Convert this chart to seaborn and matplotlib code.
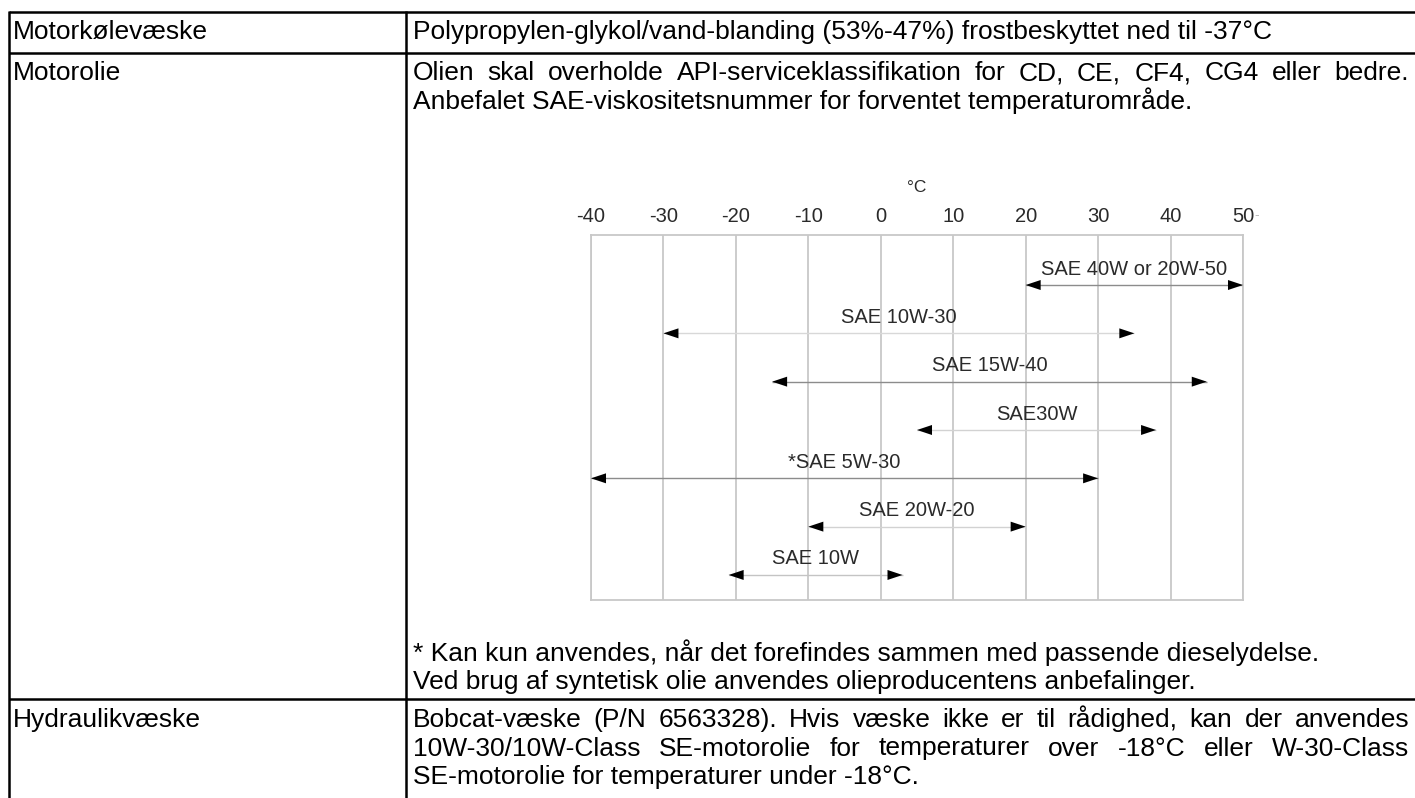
import numpy as np
import pandas as pd
import seaborn as sns
import matplotlib
matplotlib.use("Agg")
import matplotlib.pyplot as plt
from matplotlib.path import Path

# ---------------- data ----------------
row_labels = ["Motorkølevæske", "Motorolie", "Hydraulikvæske"]
coolant_text = "Polypropylen-glykol/vand-blanding (53%-47%) frostbeskyttet ned til -37°C"
oil_lines = [
    "Olien skal overholde API-serviceklassifikation for CD, CE, CF4, CG4 eller bedre.",
    "Anbefalet SAE-viskositetsnummer for forventet temperaturområde.",
]
oil_notes = [
    "* Kan kun anvendes, når det forefindes sammen med passende dieselydelse.",
    "Ved brug af syntetisk olie anvendes olieproducentens anbefalinger.",
]
hyd_lines = [
    "Bobcat-væske (P/N 6563328). Hvis væske ikke er til rådighed, kan der anvendes",
    "10W-30/10W-Class SE-motorolie for temperaturer over -18°C eller W-30-Class",
    "SE-motorolie for temperaturer under -18°C.",
]
temp_ticks = [-40, -30, -20, -10, 0, 10, 20, 30, 40, 50]
temp_unit = "°C"
grades = ["SAE 40W or 20W-50", "SAE 10W-30", "SAE 15W-40", "SAE30W",
          "*SAE 5W-30", "SAE 20W-20", "SAE 10W"]
grade_low = [20, -30, -15, 5, -40, -10, -21]
grade_high = [50, 35, 45, 38, 30, 20, 3]

# ---------------- style ----------------
grade_line_colors = ["#8c8c8c", "#d8d8d8", "#8c8c8c", "#d2d2d2",
                     "#8c8c8c", "#d2d2d2", "#c4c4c4"]
W, H = 1415, 798
BODY = 19
CHART = 14.5
LEAD = 28.5

sns.set_style("white")
plt.rcParams["font.family"] = ["Liberation Sans", "DejaVu Sans"]

fig = plt.figure(figsize=(W / 100, H / 100), dpi=100)
fig.patch.set_facecolor("white")

# background axes in pixel coordinates for the table
bg = fig.add_axes([0, 0, 1, 1])
bg.set_xlim(0, W)
bg.set_ylim(H, 0)
bg.axis("off")
bg.patch.set_visible(False)

lw = 1.8
bg.plot([9, W], [12, 12], color="black", lw=lw, solid_capstyle="butt")
bg.plot([9, W], [53, 53], color="black", lw=lw, solid_capstyle="butt")
bg.plot([9, W], [699, 699], color="black", lw=lw, solid_capstyle="butt")
bg.plot([9, 9], [11, H], color="black", lw=lw, solid_capstyle="butt")
bg.plot([406, 406], [11, H], color="black", lw=lw, solid_capstyle="butt")

renderer = fig.canvas.get_renderer()
XL, XR0, XR1 = 13, 413, 1409


def put(txt, x, y):
    return bg.text(x, y, txt, fontsize=BODY, ha="left", va="baseline", color="black")


def justified(txt, x0, x1, y):
    words = txt.split(" ")
    arts = [put(w, 0, y) for w in words]
    widths = []
    for a in arts:
        bb = a.get_window_extent(renderer)
        widths.append(bb.width)
    gap = (x1 - x0 - sum(widths)) / (len(words) - 1)
    x = x0
    for a, wdt in zip(arts, widths):
        a.set_x(x)
        x += wdt + gap


# row 1
put(row_labels[0], XL, 39)
put(coolant_text, XR0, 39)
# row 2
put(row_labels[1], XL, 80)
justified(oil_lines[0], XR0, XR1, 80)
put(oil_lines[1], XR0, 80 + LEAD)
put(oil_notes[0], XR0, 660.5)
put(oil_notes[1], XR0, 689)
# row 3
put(row_labels[2], XL, 727)
justified(hyd_lines[0], XR0, XR1, 727)
justified(hyd_lines[1], XR0, XR1, 727 + LEAD)
put(hyd_lines[2], XR0, 727 + 2 * LEAD)

# ---------------- chart ----------------
L, R, T, B = 591, 1243, 235, 600
ax = fig.add_axes([L / W, 1 - B / H, (R - L) / W, (B - T) / H])
n = len(grades)
ax.set_xlim(temp_ticks[0], temp_ticks[-1])
ax.set_ylim(n - 1 + 0.518, -1.035)
ax.set_xticks(temp_ticks)
ax.set_xticklabels([str(t) for t in temp_ticks])
ax.xaxis.tick_top()
ax.tick_params(axis="x", length=0, pad=6.5, labelsize=CHART, labelcolor="#2a2a2a")
ax.set_yticks([])
ax.grid(axis="x", color="#c8c8c8", lw=1.3)
ax.grid(axis="y", visible=False)
ax.set_axisbelow(True)
for s in ax.spines.values():
    s.set_color("#c8c8c8")
    s.set_linewidth(1.3)

df = pd.DataFrame({"grade": grades, "low": grade_low, "high": grade_high,
                   "pos": np.arange(n)})

ax.hlines(df["pos"], df["low"], df["high"], colors=grade_line_colors, lw=1.0, zorder=2)

left_head = Path([(0, 0), (1.5, 0.5), (1.5, -0.5), (0, 0)],
                 [Path.MOVETO, Path.LINETO, Path.LINETO, Path.CLOSEPOLY])
right_head = Path([(0, 0), (-1.5, 0.5), (-1.5, -0.5), (0, 0)],
                  [Path.MOVETO, Path.LINETO, Path.LINETO, Path.CLOSEPOLY])
sns.scatterplot(data=df, x="low", y="pos", marker=left_head, s=467, color="black",
                edgecolor="none", linewidth=0, ax=ax, legend=False, zorder=3)
sns.scatterplot(data=df, x="high", y="pos", marker=right_head, s=467, color="black",
                edgecolor="none", linewidth=0, ax=ax, legend=False, zorder=3)
ax.set_xlabel("")
ax.set_ylabel("")

for _, r in df.iterrows():
    ax.annotate(r["grade"], xy=((r["low"] + r["high"]) / 2, r["pos"]),
                xytext=(0, 11.5), textcoords="offset points",
                ha="center", va="center", fontsize=CHART, color="#2a2a2a")

ax.annotate(temp_unit, xy=(5, 1), xycoords=("data", "axes fraction"),
            xytext=(0, 34), textcoords="offset points",
            ha="center", va="center", fontsize=12.5, color="#2a2a2a")
ax.annotate("-", xy=(temp_ticks[-1], 1), xycoords=("data", "axes fraction"),
            xytext=(10, 14.5), textcoords="offset points",
            ha="center", va="center", fontsize=10, color="#bbbbbb")

fig.savefig("out.png", dpi=100)
